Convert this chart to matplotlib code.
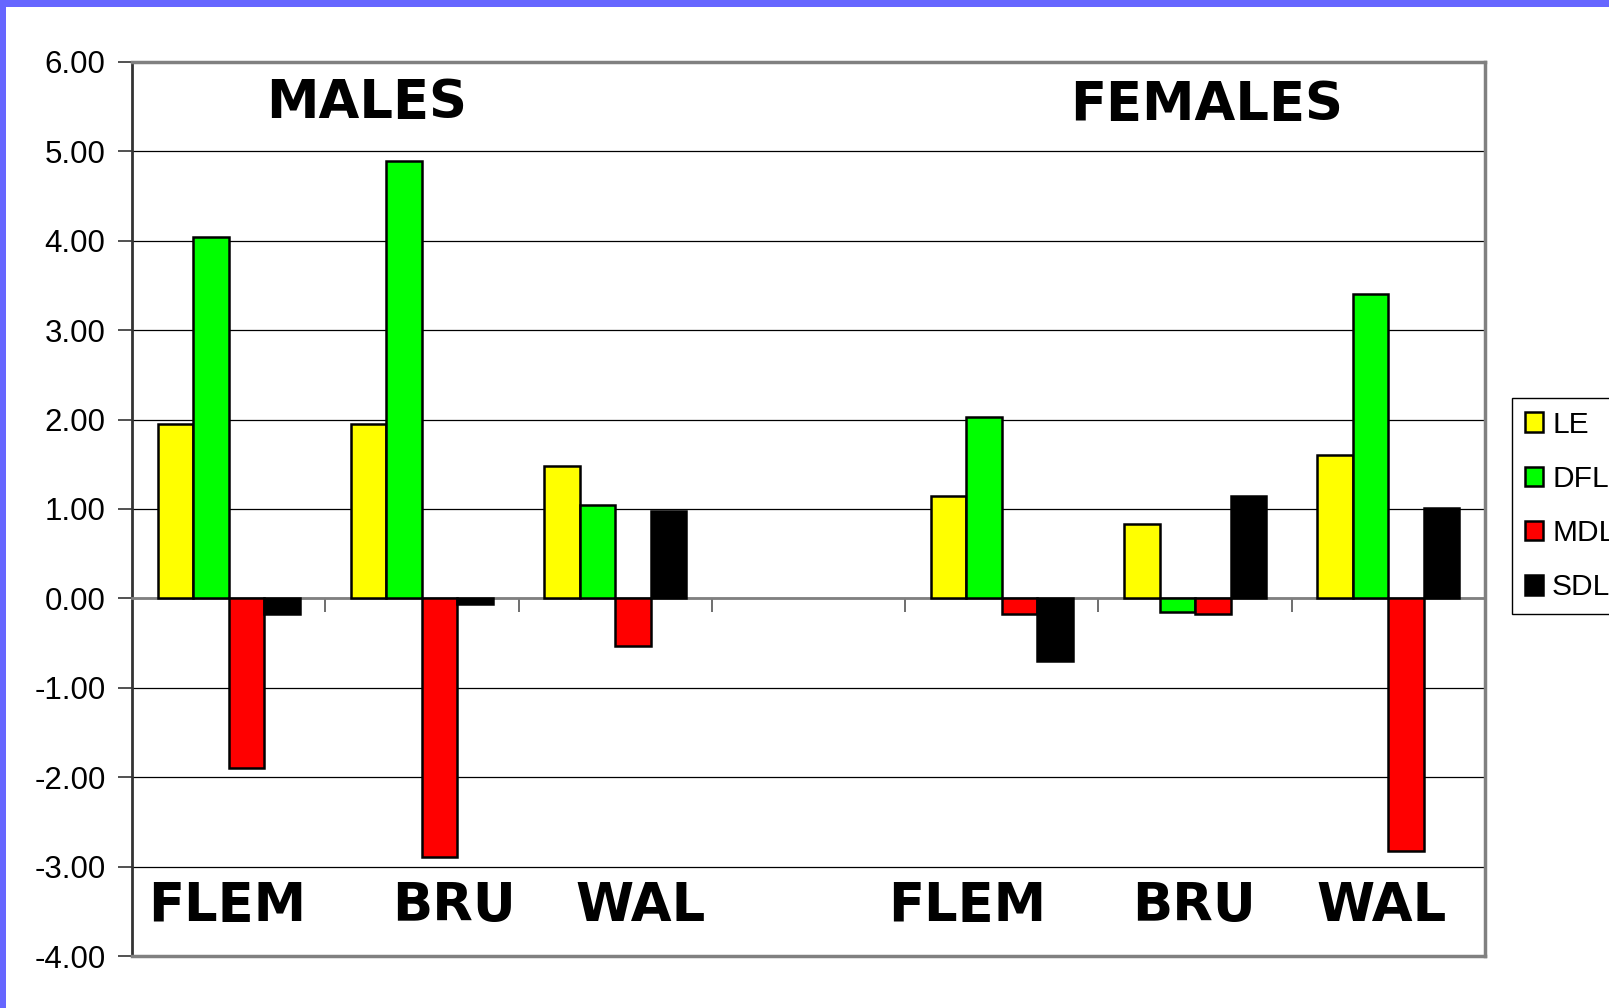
import numpy as np
import matplotlib
matplotlib.use("Agg")
import matplotlib.pyplot as plt
from matplotlib.patches import Rectangle

# data
groups = ["FLEM", "BRU", "WAL", "", "FLEM", "BRU", "WAL"]
series = ["LE", "DFL", "MDL", "SDL"]
le = [1.95, 1.95, 1.48, np.nan, 1.15, 0.83, 1.60]
dfl = [4.04, 4.89, 1.04, np.nan, 2.03, -0.15, 3.40]
mdl = [-1.90, -2.89, -0.53, np.nan, -0.18, -0.18, -2.83]
sdl = [-0.18, -0.06, 0.98, np.nan, -0.70, 1.15, 1.01]
colors = ["#ffff00", "#00ff00", "#ff0000", "#000000"]

fig = plt.figure(figsize=(16.09, 10.08), dpi=100)
fig.patch.set_facecolor("white")

# blue slide border (top and left)
fig.patches.append(Rectangle((0, 1 - 7 / 1008), 1, 7 / 1008, transform=fig.transFigure,
                             facecolor="#6666ff", edgecolor="none", zorder=0))
fig.patches.append(Rectangle((0, 0), 6 / 1609, 1, transform=fig.transFigure,
                             facecolor="#6666ff", edgecolor="none", zorder=0))

ax = fig.add_axes([132 / 1609, 1 - 956 / 1008, (1485 - 132) / 1609, (956 - 62) / 1008])

x = np.arange(len(groups))
w = 0.184
for i, (vals, col, name) in enumerate(zip([le, dfl, mdl, sdl], colors, series)):
    ax.bar(x + (i - 1.5) * w, vals, w, color=col, edgecolor="black", linewidth=1.8,
           label=name, zorder=3)

ax.set_xlim(-0.5, len(groups) - 0.5)
ax.set_ylim(-4, 6)
ax.set_yticks(np.arange(-4, 7, 1))
ax.set_yticklabels(["%.2f" % v for v in np.arange(-4, 7, 1)],
                   fontfamily="Liberation Sans", fontsize=22.5)
ax.yaxis.grid(True, color="black", linewidth=0.9, zorder=1)
ax.tick_params(axis="y", direction="out", length=10, width=1.2, color="#333333", pad=9)

# category axis sits at zero
ax.spines["bottom"].set_position(("data", 0))
ax.spines["bottom"].set_color("#808080")
ax.spines["bottom"].set_linewidth(2)
ax.set_xticks(x[:-1] + 0.5)
ax.set_xticklabels([])
ax.tick_params(axis="x", direction="out", length=10, width=1.2, color="#555555")
for s in ["top", "right"]:
    ax.spines[s].set_color("#808080")
    ax.spines[s].set_linewidth(2.5)
ax.spines["left"].set_color("#333333")
ax.spines["left"].set_linewidth(2)
ax.plot([0, 1], [0, 0], transform=ax.transAxes, color="#808080", linewidth=2.5,
        clip_on=False, zorder=5)

# group labels drawn inside the plot
label_x = [-0.005, 1.165, 2.13, None, 3.82, 4.995, 5.965]
for lx, g in zip(label_x, groups):
    if g:
        ax.text(lx, -3.44, g, ha="center", va="center", fontsize=38,
                fontweight="bold", fontfamily="DejaVu Sans")
ax.text(0.715, 5.54, "MALES", ha="center", va="center", fontsize=38,
        fontweight="bold", fontfamily="DejaVu Sans")
ax.text(5.06, 5.52, "FEMALES", ha="center", va="center", fontsize=38,
        fontweight="bold", fontfamily="DejaVu Sans")

# legend runs off the right edge, as in the original slide
leg = fig.legend(loc="upper left", bbox_to_anchor=(1512 / 1609, 1 - 398 / 1008),
                 bbox_transform=fig.transFigure, borderaxespad=0,
                 prop={"family": "Liberation Sans", "size": 21.5},
                 handlelength=0.62, handleheight=0.62, handletextpad=0.3,
                 labelspacing=0.88, borderpad=0.42, fancybox=False, framealpha=1)
leg.get_frame().set_edgecolor("black")
leg.get_frame().set_linewidth(1)

fig.savefig("out.png", dpi=100)
